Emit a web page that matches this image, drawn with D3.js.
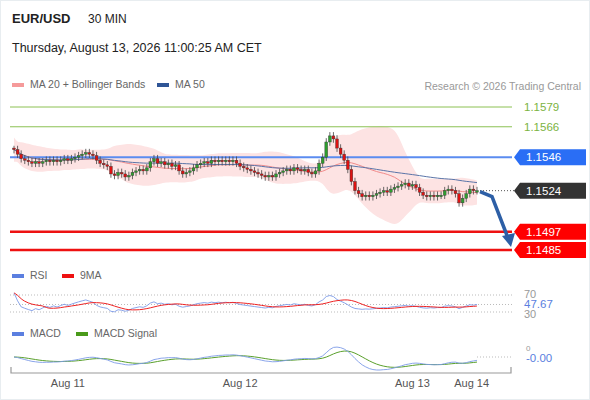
<html>
<head>
<script src="https://cdn.jsdelivr.net/npm/d3@7"></script>
<style>body{margin:0;background:#fff} text{font-family:"Liberation Sans",Arial,sans-serif}</style>
</head>
<body>
<svg width="590" height="400"></svg>
<script>
// closes of 30 min candles
var closes = [1.1551,1.1548,1.1545,
1.1544,1.1543,1.1542,1.1543,1.1542,1.1543,1.1544,1.1543,1.1544,1.1543,1.1544,
1.1545,1.1544,1.1545,1.1546,
1.1547,1.1548,1.1549,1.1548,1.1547,
1.1544,1.1542,1.1541,1.1540,
1.1535,1.1534,1.1536,1.1535,1.1533,1.1534,
1.1536,1.1537,1.1538,1.1537,1.1539,
1.1543,1.1545,1.1542,1.1543,1.1541,1.1542,
1.1540,1.1541,1.1537,1.1535,1.1536,
1.1537,1.1539,1.1541,
1.1542,1.1543,1.1542,1.1544,1.1543,1.1544,1.1543,1.1544,1.1543,1.1544,1.1542,
1.1540,1.1539,1.1538,1.1537,1.1536,
1.1535,1.1534,1.1533,1.1534,1.1533,1.1535,
1.1536,1.1537,1.1538,1.1537,1.1539,1.1538,1.1537,1.1538,1.1536,1.1535,1.1537,
1.1542,1.1546,1.1556,1.1560,1.1558,
1.1552,1.1548,1.1544,1.1538,
1.1530,1.1524,1.1522,
1.1520,1.1521,1.1520,1.1521,
1.1522,1.1523,1.1524,1.1523,1.1525,1.1526,
1.1527,1.1528,1.1529,1.1527,1.1528,1.1526,1.1523,
1.1521,1.1520,1.1521,1.1520,1.1521,1.1521,1.1524,
1.1525,1.1524,1.1522,
1.1516,1.1519,
1.1522,1.1525,1.1524,1.1524]

var levelValues = [1.1579,1.1566,1.1546,1.1524,1.1497,1.1485]
var levelKinds = ['green','green','blue','last','red','red']
var dayLabels = ['Aug 11','Aug 12','Aug 13','Aug 14']
var dayIndex = [15,63,111,127.5]
var target = 1.1485

var svg = d3.select('svg')
var n = closes.length
var x = d3.scaleLinear().domain([0,n-1]).range([14,477])
var y = d3.scaleLinear().domain([1.1485,1.1579]).range([250,107])

// moving averages and bands
function sma(arr, p){
  return arr.map(function(d,i){ return d3.mean(arr.slice(Math.max(0,i-p+1), i+1)) })
}
var ma20 = sma(closes,20), ma50 = sma(closes,50)
var sd20 = closes.map(function(d,i){
  var s = closes.slice(Math.max(0,i-19), i+1)
  return s.length>1 ? d3.deviation(s) : 0.0003
})

svg.append('rect').attr('x',0.5).attr('y',0.5).attr('width',589).attr('height',399)
  .attr('fill','none').attr('stroke','#e8edf0')

// header
svg.append('text').attr('x',12).attr('y',23).text('EUR/USD').attr('font-size',13).attr('font-weight','bold').attr('fill','#222')
svg.append('text').attr('x',88).attr('y',23).text('30 MIN').attr('font-size',12).attr('fill','#222')
svg.append('text').attr('x',12).attr('y',52).text('Thursday, August 13, 2026 11:00:25 AM CET').attr('font-size',12.5).attr('fill','#222')

function legend(items, yy){
  items.forEach(function(it){
    svg.append('rect').attr('x',it[0]).attr('y',yy-4).attr('width',12).attr('height',4).attr('fill',it[1])
    svg.append('text').attr('x',it[0]+18).attr('y',yy+1).text(it[2]).attr('font-size',10.5).attr('fill','#666')
  })
}
legend([[12,'#f59a9a','MA 20 + Bollinger Bands'],[157,'#2f5596','MA 50']], 87)
svg.append('text').attr('x',581).attr('y',90).attr('text-anchor','end').text('Research \u00a9 2026 Trading Central')
  .attr('font-size',10.5).attr('fill','#999')

// bands
svg.append('path').datum(closes).attr('fill','#fde3e3')
  .attr('d', d3.area().x(function(d,i){return x(i)})
    .y0(function(d,i){return y(ma20[i]-2*sd20[i]-0.0002)})
    .y1(function(d,i){return y(ma20[i]+2*sd20[i]+0.0002)}).curve(d3.curveBasis))

// level lines
var colors = {green:'#8cc152', blue:'#5b8cf0', red:'#ee1111', last:'#333'}
levelValues.forEach(function(v,k){
  var kind = levelKinds[k]
  if(kind=='last') return
  svg.append('line').attr('x1',10).attr('x2',512).attr('y1',y(v)).attr('y2',y(v))
    .attr('stroke',colors[kind]).attr('stroke-width', kind=='green'?1:(kind=='red'?2.5:2))
})

svg.append('path').datum(ma20).attr('fill','none').attr('stroke','#f28b8b').attr('stroke-width',1)
  .attr('d', d3.line().x(function(d,i){return x(i)}).y(function(d){return y(d)}))
svg.append('path').datum(ma50).attr('fill','none').attr('stroke','#5a74a8').attr('stroke-width',1)
  .attr('d', d3.line().x(function(d,i){return x(i)}).y(function(d){return y(d)}))

// candles
var cg = svg.selectAll('g.c').data(closes).enter().append('g')
cg.append('line').attr('x1',function(d,i){return x(i)}).attr('x2',function(d,i){return x(i)})
  .attr('y1',function(d,i){var o=i?closes[i-1]:d; return y(Math.max(o,d)+0.00025)})
  .attr('y2',function(d,i){var o=i?closes[i-1]:d; return y(Math.min(o,d)-0.00025)})
  .attr('stroke','#444').attr('stroke-width',0.8)
cg.append('rect').attr('x',function(d,i){return x(i)-1.4}).attr('width',2.8)
  .attr('y',function(d,i){var o=i?closes[i-1]:d+0.0001; return y(Math.max(o,d))})
  .attr('height',function(d,i){var o=i?closes[i-1]:d+0.0001; return Math.max(1.5,Math.abs(y(o)-y(d)))})
  .attr('fill',function(d,i){var o=i?closes[i-1]:d+0.0001; return d>=o?'#2e9e2e':'#dd1111'})
  .attr('stroke','#333').attr('stroke-width',0.4)

// last price dotted
var last = closes[n-1]
svg.append('line').attr('x1',x(n-1)+3).attr('x2',514).attr('y1',y(1.1524)).attr('y2',y(1.1524))
  .attr('stroke','#555').attr('stroke-dasharray','1,2')

// labels
levelValues.forEach(function(v,k){
  var kind = levelKinds[k], yy = y(v)
  if(kind=='green'){
    svg.append('text').attr('x',524).attr('y',yy+4).text(v.toFixed(4)).attr('font-size',11.5).attr('fill','#7cb342')
    return
  }
  var fill = kind=='blue'?'#2a6ef5':(kind=='red'?'#f00':'#333')
  svg.append('path').attr('d','M514,'+yy+' L520,'+(yy-8)+' L586,'+(yy-8)+' L586,'+(yy+8)+' L520,'+(yy+8)+' Z').attr('fill',fill)
  svg.append('text').attr('x',526).attr('y',yy+4).text(v.toFixed(4)).attr('font-size',11.5).attr('fill','#fff')
})

// arrow
var ax0 = x(n-1)+3
svg.append('path').attr('d','M'+ax0+','+(y(last)+1)+' L492,'+(y(last)+6)+' L508,'+(y(target)-12))
  .attr('fill','none').attr('stroke','#2d5fa6').attr('stroke-width',3.5)
svg.append('path').attr('d','M502,'+(y(target)-14)+' L515,'+(y(target)-17)+' L511,'+(y(target)-3)+' Z').attr('fill','#2d5fa6')

// RSI (Wilder smoothing)
var ag=0.00002, al=0.000004, rsi=[]
for(var i=0;i<n;i++){
  var c = i ? closes[i]-closes[i-1] : 0
  ag = (ag*27 + Math.max(c,0))/28
  al = (al*27 + Math.max(-c,0))/28
  rsi.push(100*ag/(ag+al))
}
rsi[n-1] = 47.67
var rsiMa = sma(rsi,9)
var yr = d3.scaleLinear().domain([30,70]).range([312,295])
legend([[12,'#5b7fe0','RSI'],[62,'#ee1111','9MA']], 278)
;[70,30,47.67].forEach(function(v){
  svg.append('line').attr('x1',10).attr('x2',512).attr('y1',yr(v)).attr('y2',yr(v)).attr('stroke','#bbb').attr('stroke-dasharray','1,2')
})
svg.append('text').attr('x',524).attr('y',yr(70)+3).text('70').attr('font-size',11).attr('fill','#999')
svg.append('text').attr('x',524).attr('y',yr(30)+6).text('30').attr('font-size',11).attr('fill','#999')
svg.append('rect').attr('x',522).attr('y',yr(47.67)-5).attr('width',32).attr('height',10).attr('fill','#fff')
svg.append('text').attr('x',524).attr('y',yr(47.67)+4).text('47.67').attr('font-size',11.5).attr('fill','#5b7fe0')
svg.append('path').datum(rsi).attr('fill','none').attr('stroke','#7d9be8').attr('stroke-width',0.9)
  .attr('d', d3.line().x(function(d,i){return x(i)}).y(function(d){return yr(Math.max(25,Math.min(75,d)))}))
svg.append('path').datum(rsiMa).attr('fill','none').attr('stroke','#ee2222').attr('stroke-width',1)
  .attr('d', d3.line().x(function(d,i){return x(i)}).y(function(d){return yr(Math.max(25,Math.min(75,d)))}).curve(d3.curveBasis))

// MACD
function ema(arr,p){var k=2/(p+1),out=[],e=arr[0]; arr.forEach(function(d){e=d*k+e*(1-k); out.push(e)}); return out}
var e12=ema(closes,12), e26=ema(closes,26)
var macd = closes.map(function(d,i){return e12[i]-e26[i]})
var signal = ema(macd,9)
var mx = d3.max(macd, function(d){return Math.abs(d)})
var ym = d3.scaleLinear().domain([-mx,mx]).range([370,344])
legend([[12,'#5b7fe0','MACD'],[76,'#4a9a1a','MACD Signal']], 336)
svg.append('line').attr('x1',x(n-1)).attr('x2',512).attr('y1',ym(0)).attr('y2',ym(0)).attr('stroke','#bbb').attr('stroke-dasharray','1,2')
svg.append('text').attr('x',526).attr('y',ym(0)-6).text('0').attr('font-size',8).attr('fill','#999')
svg.append('text').attr('x',526).attr('y',ym(0)+5).text('-0.00').attr('font-size',11.5).attr('fill','#5b7fe0')
svg.append('path').datum(signal).attr('fill','none').attr('stroke','#5aa02c').attr('stroke-width',1)
  .attr('d', d3.line().x(function(d,i){return x(i)}).y(function(d){return ym(d)}))
svg.append('path').datum(macd).attr('fill','none').attr('stroke','#7d9be8').attr('stroke-width',0.9)
  .attr('d', d3.line().x(function(d,i){return x(i)}).y(function(d){return ym(d)}))

// x axis
svg.append('path').attr('d','M11,367 V373 H511 V367').attr('fill','none').attr('stroke','#999').attr('stroke-width',1.2)
dayLabels.forEach(function(t,k){
  svg.append('text').attr('x',x(dayIndex[k])).attr('y',387).attr('text-anchor','middle').text(t).attr('font-size',11).attr('fill','#555')
})
</script>
</body>
</html>
